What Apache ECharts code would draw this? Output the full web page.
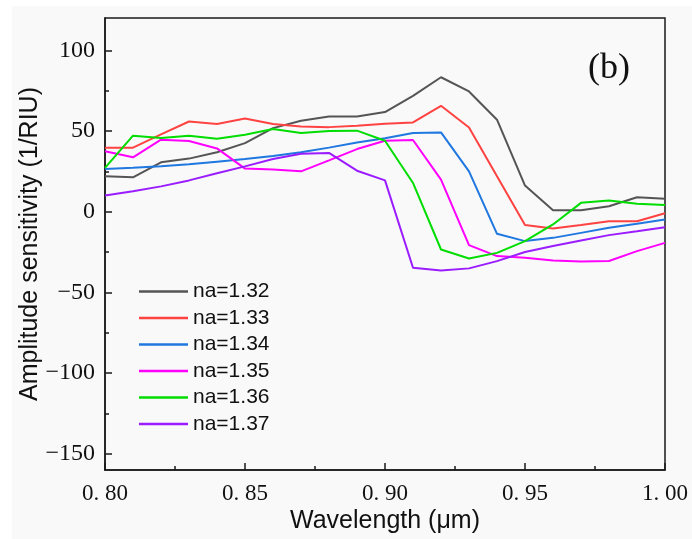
<!DOCTYPE html>
<html>
<head>
<meta charset="utf-8">
<script src="https://cdn.jsdelivr.net/npm/echarts@6/dist/echarts.min.js"></script>
<style>
  html, body { margin: 0; padding: 0; background: #fff; }
  #chart { width: 692px; height: 539px; }
</style>
</head>
<body>
<div id="chart"></div>
<script>
// wavelength (µm), one point every 0.01
const wavelength = [0.80, 0.81, 0.82, 0.83, 0.84, 0.85, 0.86, 0.87, 0.88, 0.89, 0.90,
                    0.91, 0.92, 0.93, 0.94, 0.95, 0.96, 0.97, 0.98, 0.99, 1.00];

// amplitude sensitivity (1/RIU) for each analyte index
const na132 = [21.9, 21.3, 30.6, 32.9, 36.8, 42.5, 51.8, 56.3, 59.0, 59.0, 61.7,
               71.8, 83.3, 74.5, 57.0, 16.2, 0.9, 0.9, 3.4, 9.0, 8.0];
const na133 = [39.7, 39.7, 47.9, 55.9, 54.3, 57.8, 54.3, 52.8, 52.4, 53.3, 54.5,
               55.3, 65.6, 52.2, 21.9, -8.3, -10.4, -8.3, -5.9, -5.9, -0.9];
const na134 = [26.5, 27.3, 28.2, 29.4, 31.0, 32.6, 34.5, 36.8, 39.7, 42.9, 45.5,
               48.7, 49.1, 25.0, -13.7, -18.2, -16.2, -13.1, -10.0, -7.5, -4.8];
const na135 = [37.4, 33.7, 44.6, 43.8, 39.2, 26.7, 26.1, 25.0, 31.8, 38.8, 44.0,
               44.4, 19.9, -20.7, -27.5, -28.5, -30.2, -30.8, -30.5, -24.4, -19.3];
const na136 = [27.1, 47.1, 45.6, 47.1, 45.2, 47.7, 51.2, 48.7, 50.0, 50.2, 44.0,
               17.8, -23.4, -29.0, -25.5, -18.2, -7.9, 5.5, 6.9, 4.9, 4.2];
const na137 = [10.0, 12.7, 15.7, 19.4, 23.8, 28.1, 32.7, 35.9, 36.4, 25.4, 19.4,
               -34.7, -36.4, -35.1, -30.6, -25.0, -21.3, -17.8, -14.5, -12.1, -9.6];

const seriesNames = ['na=1.32', 'na=1.33', 'na=1.34', 'na=1.35', 'na=1.36', 'na=1.37'];
const seriesValues = [na132, na133, na134, na135, na136, na137];
const seriesColors = ['#555555', '#ff4242', '#1f77e0', '#ff00ff', '#00dd00', '#9a1cff'];

// tick values
const yMajorTicks = [-150, -100, -50, 0, 50, 100];
const yMinorTicks = [-125, -75, -25, 25, 75];

const axisColor = '#1a1a1a';
const serif = '"Liberation Serif", "DejaVu Serif", serif';
const sans = '"Liberation Sans", Arial, sans-serif';

const chart = echarts.init(document.getElementById('chart'));

// junta x e y em pares para o eixo de valores
const series = seriesNames.map((nome, i) => ({
    name: nome,
    type: 'line',
    symbol: 'none',
    data: wavelength.map((x, k) => [x, seriesValues[i][k]]),
    lineStyle: { width: 2, color: seriesColors[i] },
    itemStyle: { color: seriesColors[i] }
}));

const option = {
    backgroundColor: '#ffffff',
    animation: false,
    graphic: [
        { type: 'rect', left: 12, top: 6, shape: { width: 680, height: 533 },
          style: { fill: '#f9f9f9' }, z: -10, silent: true },
        { type: 'text', left: 588, top: 51,
          style: { text: '(b)', font: '36px ' + serif, fill: '#111' } }
    ],
    grid: {
        left: 105, right: 27, top: 18, bottom: 68,
        show: true, borderColor: axisColor, borderWidth: 1.5, backgroundColor: 'transparent'
    },
    legend: {
        orient: 'vertical',
        left: 134,
        top: 276,
        icon: 'rect',
        itemWidth: 49,
        itemHeight: 2.5,
        itemGap: 5.5,
        data: seriesNames,
        textStyle: { fontFamily: sans, fontSize: 21, color: '#111' }
    },
    xAxis: {
        type: 'value',
        min: 0.8,
        max: 1.0,
        interval: 0.05,
        name: 'Wavelength (μm)',
        nameLocation: 'middle',
        nameGap: 39,
        nameMoveOverlap: false,
        nameTextStyle: { fontFamily: sans, fontSize: 25, color: '#111' },
        axisLine: { onZero: false, lineStyle: { color: axisColor, width: 1.5 } },
        axisTick: { inside: true, length: 7, lineStyle: { color: axisColor, width: 1.5 } },
        minorTick: { show: true, splitNumber: 2, length: 4, lineStyle: { color: axisColor, width: 1.5 } },
        splitLine: { show: false },
        axisLabel: {
            margin: 12,
            fontFamily: serif,
            fontSize: 23,
            color: '#111',
            formatter: v => v.toFixed(2).replace('.', '. ')
        }
    },
    yAxis: [{
        type: 'value',
        min: -160,
        max: 120,
        name: 'Amplitude sensitivity (1/RIU)',
        nameLocation: 'middle',
        nameGap: 62,
        nameMoveOverlap: false,
        nameTextStyle: { fontFamily: sans, fontSize: 25, color: '#111' },
        axisLine: { show: true, onZero: false, lineStyle: { color: axisColor, width: 1.5 } },
        axisTick: { inside: true, length: 7, customValues: yMajorTicks,
                    lineStyle: { color: axisColor, width: 1.5 } },
        splitLine: { show: false },
        axisLabel: {
            margin: 10,
            fontFamily: serif,
            fontSize: 24,
            color: '#111',
            customValues: yMajorTicks,
            formatter: v => (v < 0 ? '\u2212' + Math.abs(v) : String(v))
        }
    }, {
        // só os tiques menores
        type: 'value',
        min: -160,
        max: 120,
        position: 'left',
        axisLine: { show: false },
        axisTick: { inside: true, length: 4, customValues: yMinorTicks,
                    lineStyle: { color: axisColor, width: 1.5 } },
        axisLabel: { show: false, customValues: yMinorTicks },
        splitLine: { show: false }
    }],
    series: series
};

chart.setOption(option);
</script>
</body>
</html>
